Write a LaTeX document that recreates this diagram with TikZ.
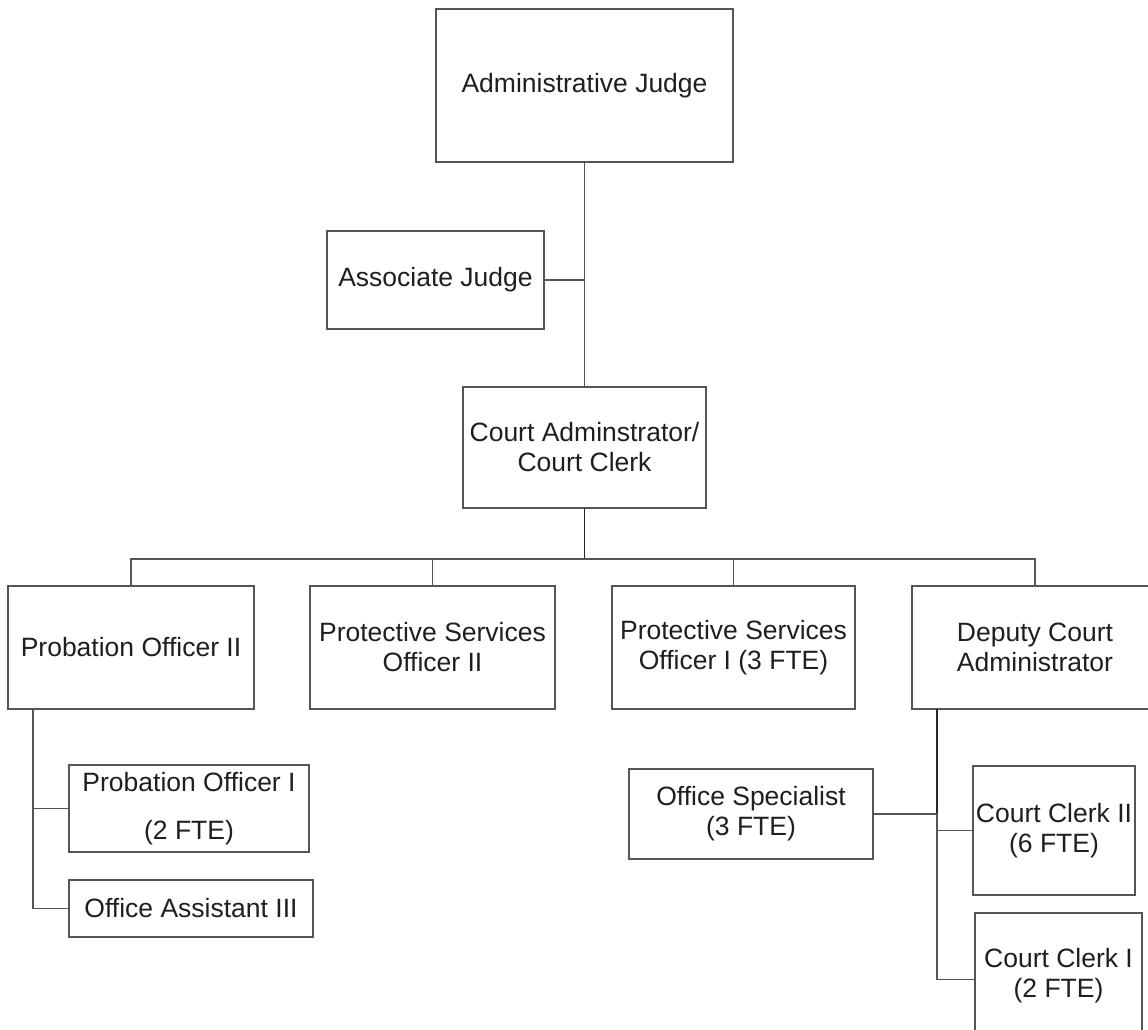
\documentclass[tikz,border=0pt]{standalone}
\usepackage{fontspec}
\setmainfont{Liberation Sans}
\begin{document}
\begin{tikzpicture}[x=1pt,y=-1pt,
  box/.style={draw=boxgray, line width=1.6pt, fill=white, align=center,
    inner sep=0pt, text=black!88,
    font=\fontsize{26.5}{30}\selectfont},
  link/.style={draw=boxgray, line width=1.6pt},
  trunk/.style={draw=black!85, line width=1.8pt}]
\definecolor{boxgray}{HTML}{555555}
\useasboundingbox (0,0) rectangle (1148,1029);
\clip (0,0) rectangle (1148,1029);
\fill[white] (0,0) rectangle (1148,1029);

% top of the chart
\node[box, minimum width=297pt, minimum height=153pt] (aj) at (584.5,85.5) {Administrative Judge};
\node[box, minimum width=217pt, minimum height=98pt] (asj) at (435.5,280) {Associate Judge};
\node[box, minimum width=243pt, minimum height=121pt] (ca) at (584.5,447.5) {Court Adminstrator/\\Court Clerk};

% second tier
\node[box, minimum width=246pt, minimum height=123pt] (po2) at (131,647.5) {Probation Officer II};
\node[box, minimum width=245pt, minimum height=123pt] (pso2) at (432.5,647.5) {Protective Services\\Officer II};
\node[box, minimum width=243pt, minimum height=123pt] (pso1) at (733.5,647.5) {Protective Services\\Officer I (3 FTE)};
\node[box, minimum width=246pt, minimum height=123pt] (dca) at (1035,647.5) {Deputy Court\\Administrator};

% under probation
\node[box, minimum width=240pt, minimum height=87pt] (po1) at (189,808.5) {Probation Officer I\\[18pt](2 FTE)};
\node[box, minimum width=244pt, minimum height=57pt] (oa3) at (191,908.5) {Office Assistant III};

% under the deputy
\node[box, minimum width=244pt, minimum height=90pt] (os) at (751,814) {Office Specialist\\(3 FTE)};
\node[box, minimum width=162pt, minimum height=129pt] (cc2) at (1054,830.5) {Court Clerk II\\(6 FTE)};
\node[box, minimum width=167pt, minimum height=125pt] (cc1) at (1058.5,975.5) {Court Clerk I\\(2 FTE)};

% connectors
\coordinate (bus) at (584.5,559);
\coordinate (lt) at (33,709);
\coordinate (rt) at (937,709);

\draw[link] (aj.south) -- (ca.north);
\draw[link] (asj.east) -- (asj.east -| aj.south);
\draw[trunk] (ca.south) -- (bus);
\draw[link] (po2.north) |- (bus) -| (dca.north);
\draw[link] (pso2.north) -- (pso2.north |- bus);
\draw[link] (pso1.north) -- (pso1.north |- bus);

\draw[link] (lt) |- (oa3.west);
\draw[link] (lt |- po1.west) -- (po1.west);

\draw[trunk] (rt) -- (rt |- os.east);
\draw[link] (rt |- os.east) |- ([yshift=-4pt]cc1.west);
\draw[link] (rt |- cc2.west) -- (cc2.west);
\draw[link] (os.east) -- (os.east -| rt);
\end{tikzpicture}
\end{document}
